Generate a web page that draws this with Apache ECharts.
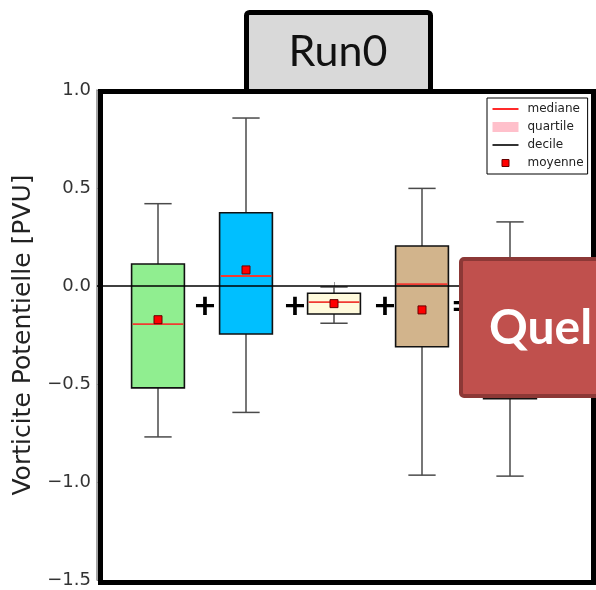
<!DOCTYPE html>
<html>
<head>
<meta charset="utf-8">
<style>
html,body{margin:0;padding:0;background:#fff;}
#chart{width:596px;height:590px;}
</style>
<script src="https://cdn.jsdelivr.net/npm/echarts@6/dist/echarts.min.js"></script>
</head>
<body>
<div id="chart"></div>
<script>
// ---- data ----
const categories = ['1', '2', '3', '4', '5'];
const whiskerLow  = [-0.77, -0.645, -0.19, -0.965, -0.97];
const q1          = [-0.52, -0.245, -0.143, -0.31, -0.575];
const median      = [-0.195, 0.051, -0.082, 0.01, -0.25];
const q3          = [0.112, 0.374, -0.037, 0.204, 0.05];
const whiskerHigh = [0.42, 0.857, -0.005, 0.498, 0.327];
const means       = [-0.172, 0.082, -0.09, -0.122, -0.30];
const boxColors   = ['#90ee90', '#00bfff', '#fffadc', '#d2b48c', '#e6e6e6'];
const yTicks      = [-1.5, -1.0, -0.5, 0.0, 0.5, 1.0];
const legendNames = ['mediane', 'quartile', 'decile', 'moyenne'];

const chart = echarts.init(document.getElementById('chart'), null, {renderer: 'canvas'});

const fmt = v => (v < 0 ? '\u2212' : '') + Math.abs(v).toFixed(1);

const option = {
  animation: false,
  backgroundColor: '#fff',
  grid: [
    {left: 97, right: 4, top: 90, bottom: 10},
    {left: 114, right: 42, top: 90, bottom: 10}
  ],
  xAxis: [
    {type: 'value', gridIndex: 0, min: 0, max: 1, show: false},
    {type: 'category', gridIndex: 1, data: categories, boundaryGap: true,
     axisLine: {show: false}, axisLabel: {show: false}, splitLine: {show: false},
     axisTick: {show: true, alignWithLabel: true, inside: true, length: 4, lineStyle: {color: '#999'}}},
    {type: 'category', gridIndex: 1, position: 'top', data: categories, boundaryGap: true,
     axisLine: {show: false}, axisLabel: {show: false}, splitLine: {show: false},
     axisTick: {show: true, alignWithLabel: true, inside: true, length: 4, lineStyle: {color: '#999'}}}
  ],
  yAxis: [
    {type: 'value', gridIndex: 0, min: yTicks[0], max: yTicks[yTicks.length - 1], interval: 0.5,
     name: 'Vorticite Potentielle [PVU]', nameLocation: 'middle', nameGap: 61,
     nameTextStyle: {fontSize: 25, color: '#222', fontFamily: 'DejaVu Sans'},
     axisLine: {show: true, lineStyle: {color: '#888', width: 1.5}},
     axisTick: {show: true, inside: true, length: 4, lineStyle: {color: '#888'}},
     axisLabel: {fontSize: 18, color: '#333', fontFamily: 'DejaVu Sans', margin: 6, formatter: fmt},
     splitLine: {show: false}},
    {type: 'value', gridIndex: 1, min: yTicks[0], max: yTicks[yTicks.length - 1], interval: 0.5, show: false}
  ],
  legend: {
    orient: 'vertical', left: 487, top: 98,
    backgroundColor: '#fff', borderColor: '#000', borderWidth: 1, borderRadius: 0,
    padding: [5, 4, 5, 5], itemWidth: 26, itemHeight: 10, itemGap: 6,
    textStyle: {fontSize: 12, color: '#222', fontFamily: 'DejaVu Sans', padding: [0, 0, 0, 4]},
    selectedMode: false,
    data: [
      {name: legendNames[0], icon: 'path://M0,0L26,0L26,2L0,2Z', itemStyle: {color: '#ff2a2a', borderWidth: 0}},
      {name: legendNames[1], icon: 'rect', itemStyle: {color: '#ffc0cb', borderWidth: 0}},
      {name: legendNames[2], icon: 'path://M0,0L26,0L26,1.6L0,1.6Z', itemStyle: {color: '#000', borderWidth: 0}},
      {name: legendNames[3], icon: 'path://M0,0M26,10M9.5,1.5L16.5,1.5L16.5,8.5L9.5,8.5Z', itemStyle: {color: '#ff0000', borderColor: '#600', borderWidth: 1}}
    ]
  },
  series: [
    {
      type: 'line', xAxisIndex: 0, yAxisIndex: 0, data: [], silent: true,
      markLine: {silent: true, symbol: 'none', label: {show: false},
        lineStyle: {color: '#000', width: 1.5, type: 'solid'},
        data: [{yAxis: 0}]}
    },
    {
      name: legendNames[2], type: 'custom', xAxisIndex: 1, yAxisIndex: 1, z: 2,
      data: categories.map((c, i) => [i, whiskerLow[i], q1[i], q3[i], whiskerHigh[i]]),
      encode: {x: 0, y: [1, 2, 3, 4]},
      renderItem: function (params, api) {
        const i = api.value(0);
        const lo = api.coord([i, api.value(1)]);
        const b = api.coord([i, api.value(2)]);
        const t = api.coord([i, api.value(3)]);
        const hi = api.coord([i, api.value(4)]);
        const half = api.size([1, 0])[0] * 0.155;
        const st = {stroke: '#4a4a4a', lineWidth: 1.5, fill: 'none'};
        return {type: 'group', children: [
          {type: 'line', shape: {x1: lo[0], y1: lo[1], x2: b[0], y2: b[1]}, style: st},
          {type: 'line', shape: {x1: t[0], y1: t[1], x2: hi[0], y2: hi[1]}, style: st},
          {type: 'line', shape: {x1: lo[0] - half, y1: lo[1], x2: lo[0] + half, y2: lo[1]}, style: st},
          {type: 'line', shape: {x1: hi[0] - half, y1: hi[1], x2: hi[0] + half, y2: hi[1]}, style: st}
        ]};
      }
    },
    {
      name: legendNames[1], type: 'custom', xAxisIndex: 1, yAxisIndex: 1, z: 3,
      data: categories.map((c, i) => [i, q1[i], q3[i]]),
      encode: {x: 0, y: [1, 2]},
      renderItem: function (params, api) {
        const i = api.value(0);
        const top = api.coord([i, api.value(2)]);
        const bot = api.coord([i, api.value(1)]);
        const w = api.size([1, 0])[0] * 0.6;
        return {type: 'rect',
          shape: {x: top[0] - w / 2, y: top[1], width: w, height: bot[1] - top[1]},
          style: {fill: boxColors[params.dataIndex], stroke: '#111', lineWidth: 1.6}};
      }
    },
    {
      name: legendNames[0], type: 'custom', xAxisIndex: 1, yAxisIndex: 1, z: 4,
      data: categories.map((c, i) => [i, median[i]]),
      encode: {x: 0, y: 1},
      renderItem: function (params, api) {
        const i = api.value(0);
        const p = api.coord([i, api.value(1)]);
        const w = api.size([1, 0])[0] * 0.6;
        return {type: 'line',
          shape: {x1: p[0] - w / 2 + 1, y1: p[1], x2: p[0] + w / 2 - 1, y2: p[1]},
          style: {stroke: '#f03a32', lineWidth: 1.8}};
      }
    },
    {
      name: legendNames[3], type: 'scatter', xAxisIndex: 1, yAxisIndex: 1, z: 5,
      symbol: 'rect', symbolSize: 8,
      itemStyle: {color: '#ff0000', borderColor: '#600', borderWidth: 1, opacity: 1},
      data: categories.map((c, i) => [i, means[i]])
    }
  ],
  graphic: [
    {type: 'rect', z: 10, silent: true,
     shape: {x: 100.5, y: 91.5, width: 493, height: 491},
     style: {fill: 'none', stroke: '#000', lineWidth: 5}},
    {type: 'rect', z: 11, silent: true,
     shape: {x: 246.5, y: 12.5, width: 184, height: 79, r: 3},
     style: {fill: '#d9d9d9', stroke: '#000', lineWidth: 5}},
    {type: 'text', z: 12, x: 338, y: 52, silent: true,
     style: {text: 'Run0', font: '43px Lato', fill: '#111', align: 'center', verticalAlign: 'middle', textAlign: 'center', textVerticalAlign: 'middle'}},
    {type: 'text', z: 6, x: 205, y: 306, silent: true,
     style: {text: '+', font: 'bold 37px Lato', fill: '#000', align: 'center', verticalAlign: 'middle', textAlign: 'center', textVerticalAlign: 'middle'}},
    {type: 'text', z: 6, x: 295, y: 306, silent: true,
     style: {text: '+', font: 'bold 37px Lato', fill: '#000', align: 'center', verticalAlign: 'middle', textAlign: 'center', textVerticalAlign: 'middle'}},
    {type: 'text', z: 6, x: 385, y: 306, silent: true,
     style: {text: '+', font: 'bold 37px Lato', fill: '#000', align: 'center', verticalAlign: 'middle', textAlign: 'center', textVerticalAlign: 'middle'}},
    {type: 'text', z: 6, x: 462, y: 306, silent: true,
     style: {text: '=', font: 'bold 37px Lato', fill: '#000', align: 'center', verticalAlign: 'middle', textAlign: 'center', textVerticalAlign: 'middle'}},
    {type: 'rect', z: 20, silent: true,
     shape: {x: 461, y: 259, width: 150, height: 137, r: 3},
     style: {fill: '#c0504d', stroke: '#8c3836', lineWidth: 4}},
    {type: 'text', z: 21, x: 489, y: 329, silent: true,
     style: {text: 'Quel', font: 'bold 48px Lato', fill: '#fff', align: 'left', verticalAlign: 'middle', textAlign: 'left', textVerticalAlign: 'middle'}}
  ]
};

chart.setOption(option);
</script>
</body>
</html>
